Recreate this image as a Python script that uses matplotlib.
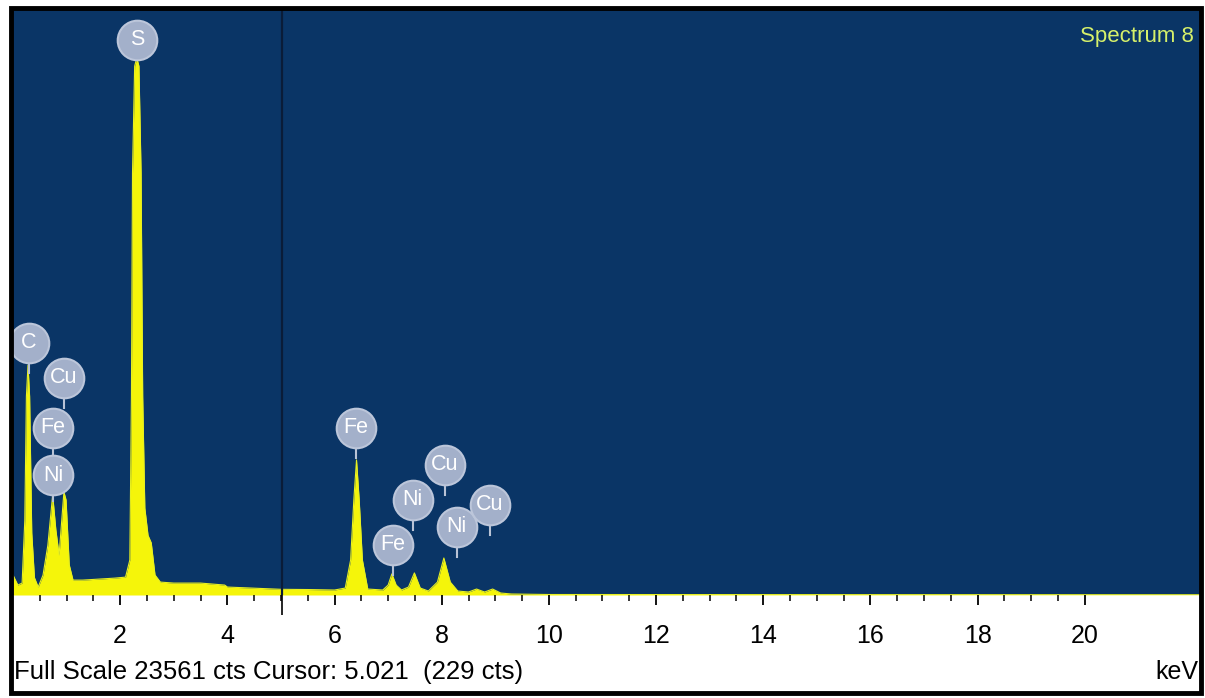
import numpy as np
import matplotlib
matplotlib.use('Agg')
import matplotlib.pyplot as plt
from matplotlib.patches import Rectangle

plt.rcParams['font.family'] = ['Liberation Sans Narrow', 'Liberation Sans', 'DejaVu Sans']

# spectrum outline (keV, counts)
energy = [0.00, 0.09, 0.17, 0.22, 0.25, 0.28, 0.31, 0.35, 0.40, 0.47, 0.56, 0.65,
          0.74, 0.80, 0.86, 0.91, 0.95, 0.99, 1.05, 1.12, 1.30, 1.60, 1.90, 2.10,
          2.18, 2.21, 2.23, 2.27, 2.31, 2.35, 2.39, 2.42, 2.46, 2.52, 2.58, 2.65,
          2.75, 3.00, 3.50, 3.95, 4.00, 5.00, 5.50, 6.00, 6.20, 6.30, 6.36, 6.41,
          6.46, 6.52, 6.62, 6.90, 7.00, 7.07, 7.15, 7.25, 7.38, 7.49, 7.60, 7.75,
          7.92, 8.04, 8.16, 8.30, 8.50, 8.65, 8.80, 8.95, 9.10, 9.30, 10.0, 15.0,
          22.2]
counts = [805, 400, 480, 3000, 8000, 9260, 8000, 2500, 700, 320, 800, 2000,
          4030, 2620, 1610, 3020, 4150, 3830, 1210, 600, 600, 640, 680, 720,
          1410, 8000, 17000, 21300, 21630, 21300, 17000, 8000, 3500, 2400, 2100, 805,
          520, 480, 480, 400, 320, 229, 220, 200, 280, 1410, 3830, 5440,
          3830, 1410, 240, 200, 400, 850, 400, 200, 320, 890, 280, 160,
          520, 1490, 520, 160, 120, 240, 120, 240, 80, 40, 20, 15,
          10]

# element markers: name, line energy (keV), marker height (counts)
peak_names = ['S', 'C', 'Cu', 'Fe', 'Ni', 'Fe', 'Fe', 'Ni', 'Cu', 'Ni', 'Cu']
peak_kev = [2.31, 0.30, 0.95, 0.75, 0.75, 6.40, 7.09, 7.46, 8.06, 8.28, 8.90]
label_cts = [22355, 10150, 8740, 6730, 4830, 6730, 2015, 3830, 5240, 2740, 3630]

full_scale = 23561
cursor_kev = 5.021
cursor_cts = 229

fig = plt.figure(figsize=(12.05, 6.98), dpi=100)
fig.patch.set_facecolor('white')
ax = fig.add_axes([13 / 1205, 103 / 698, 1187 / 1205, 585 / 698])
ax.set_facecolor('#0a3566')

ax.fill_between(energy, counts, 0, color='#f5f50a', lw=0)
ax.plot(energy, counts, color='#e8f020', lw=0.8)

ax.axvline(cursor_kev, color='#0a1c38', lw=1.6)
ax.vlines(cursor_kev, -800, 0, color='black', lw=1.2, clip_on=False)

# marker stems and circles
stem = 30 * full_scale / 585
for name, e, h in zip(peak_names, peak_kev, label_cts):
    bottom = max(h - stem, float(np.interp(e, energy, counts)))
    ax.plot([e, e], [bottom, h], color='#b9c3d6', lw=1.5, zorder=3)
for name, e, h in zip(peak_names, peak_kev, label_cts):
    ax.scatter([e], [h], s=28.5 ** 2, color='#a3b0ca', edgecolors='#bcc6da',
               linewidths=1.5, zorder=4)
    ax.text(e, h, name, color='white', fontsize=15.5, ha='center', va='center', zorder=5)

ax.set_xlim(0, 22.15)
ax.set_ylim(0, full_scale)
ax.set_yticks([])
ax.set_xticks(np.arange(2, 21, 2))
ax.set_xticks(np.arange(0.5, 20.01, 0.5), minor=True)
ax.set_xticklabels([str(v) for v in range(2, 21, 2)], fontsize=18)
ax.tick_params(axis='x', which='major', direction='out', length=7, width=1.3, pad=14, colors='black')
ax.tick_params(axis='x', which='minor', direction='out', length=4, width=1.1)
for s in ax.spines.values():
    s.set_visible(False)

ax.text(0.995, 0.955, 'Spectrum 8', transform=ax.transAxes, color='#d6f06a',
        fontsize=16, ha='right', va='center')
fig.text(14 / 1205, 1 - 672 / 698,
         f'Full Scale {full_scale} cts Cursor: {cursor_kev:.3f}  ({cursor_cts} cts)',
         fontsize=18.5, ha='left', va='center')
fig.text(1198 / 1205, 1 - 672 / 698, 'keV', fontsize=18, ha='right', va='center')

fig.add_artist(Rectangle((10.5 / 1205, 5 / 698), 1190 / 1205, 685 / 698,
                         transform=fig.transFigure, fill=False, ec='black', lw=3.5))

fig.savefig('out.png', dpi=100)
